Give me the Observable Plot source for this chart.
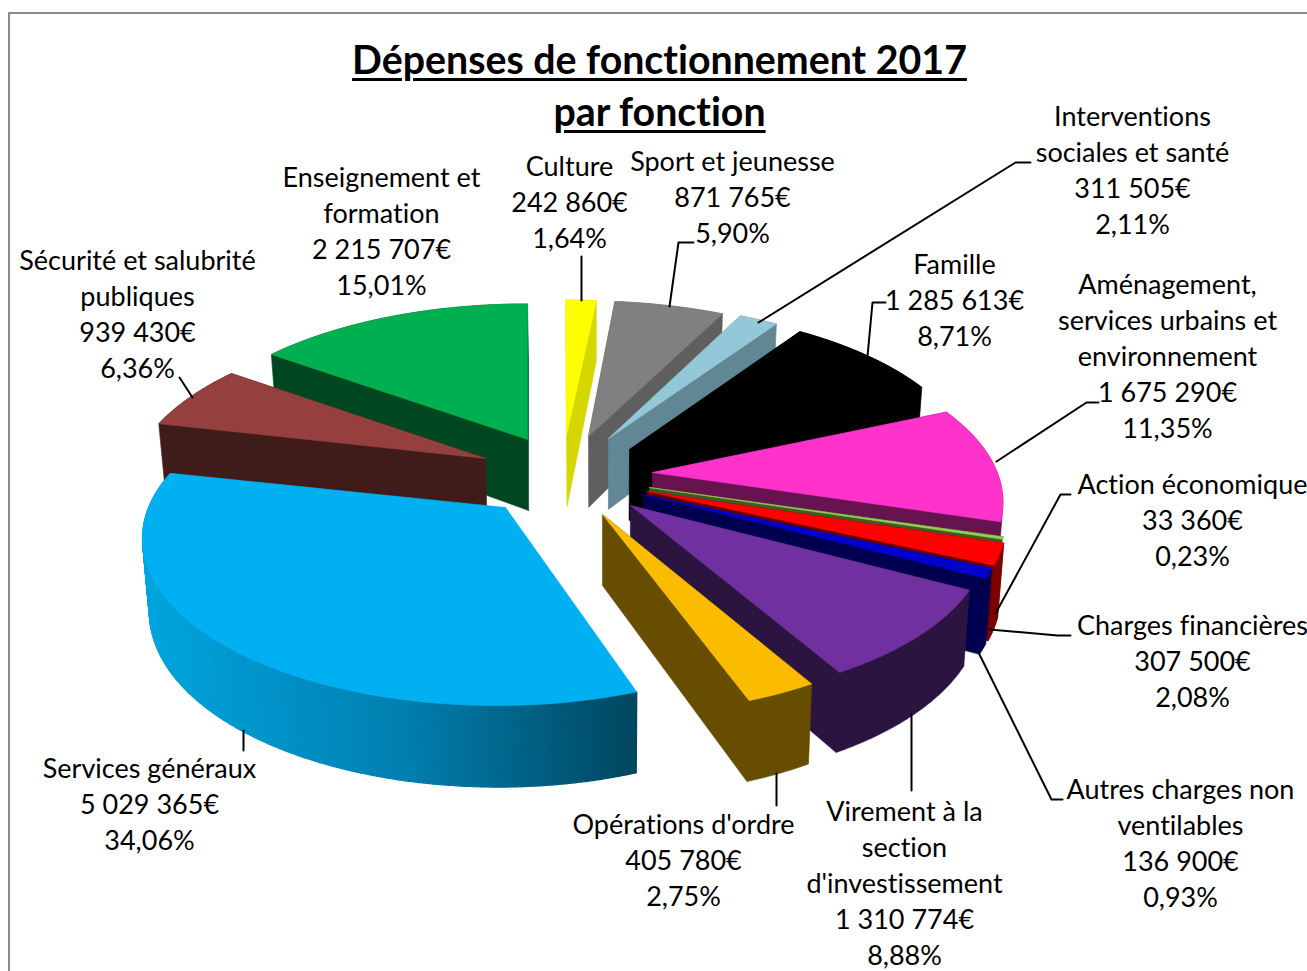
<!DOCTYPE html>
<html lang="fr"><head><meta charset="utf-8">
<script src="https://cdn.jsdelivr.net/npm/d3@7"></script>
<script src="https://cdn.jsdelivr.net/npm/@observablehq/plot@0.6"></script>
<style>
html,body{margin:0;padding:0;background:#fff;overflow:hidden}
#wrap{position:relative;width:1307px;height:971px}
#title{position:absolute;left:0;top:32.5px;width:1319px;text-align:center;font:700 39.3px/52.5px Lato,sans-serif;color:#000;text-decoration:underline;text-decoration-thickness:3px;text-underline-offset:4px;font-variant-ligatures:none;z-index:2}
svg text{font-variant-ligatures:none}
</style></head><body>
<div id="wrap"><div id="title">Dépenses de fonctionnement 2017<br>par fonction</div></div>
<script>
// ---- data ----
const names = ["Culture","Sport et jeunesse","Interventions\nsociales et santé","Famille","Aménagement,\nservices urbains et\nenvironnement","Action économique","Charges financières","Autres charges non\nventilables","Virement à la\nsection\nd'investissement","Opérations d'ordre","Services généraux","Sécurité et salubrité\npubliques","Enseignement et\nformation"];
const amounts = [242860,871765,311505,1285613,1675290,33360,307500,136900,1310774,405780,5029365,939430,2215707];
const percents = [1.64,5.90,2.11,8.71,11.35,0.23,2.08,0.93,8.88,2.75,34.06,6.36,15.01];
const topColors = ["#FFFF00","#808080","#92C8D8","#000000","#FF33CC","#92D050","#FF0000","#0000CC","#7030A0","#FBBC00","#00B0F0","#953F3F","#00B050"];
const wallColors = ["#D6D600","#5F5F5F","#628794","#000000","#66134F","#3F5A23","#660000","#000050","#2C1440","#664D00",null,"#3F1C1A","#004621"];
const rimColors = ["#D6D600","#5F5F5F","#628794","#000000","#66134F","#7CB044","#7F0000","#000050","#2C1440","#664D00",null,"#3F1C1A","#004621"];

// ---- per-slice placement of the exploded pie ----
const centreX = [566,588,608,629,652,649,647,643,630,602,496,485,527];
const centreY = [435,436,438,449,472,487,491,494,505,514,508,458,439];
const tipX = [566,588,608,629,652,649,647,643,630,602,505,485,527];
const tipY = [435,436,438,449,472,487,491,494,505,514,507,458,439];
const leans = [-1,-5,-6,0,0,0,0,-4,-5,-5,0,4,0];
const xStretch = [1,1,0.99,0.98,0.985,1,1.01,1.01,1,1,0.995,1,1];
const yStretch = [1,1,1,1.03,1,1,1,1,1.01,1.025,1.01,1,1];
const paintOrder = [0,1,2,3,4,5,6,7,8,12,11,10,9];
const labelX = [569,732,1132,954,1167,1192,1192,1180,904,683,149,137,381];
const labelY = [200,195,168,298,354,518,659,841,881,858,802,312,229];
const leaders = [
  [[581,256],[581,300]],
  [[693,242],[678,242],[669,306]],
  [[1030,162],[1015,162],[758,322]],
  [[885,302],[872,302],[867,356]],
  [[1098,402],[1086,402],[996,461]],
  [[1070,494],[1060,494],[995,613]],
  [[1070,635],[1057,635],[989,629]],
  [[1062,799],[1051,799],[978,652]],
  [[911,790],[911,714]],
  [[776,805],[776,773]],
  [[243,750],[243,730]],
  [[179,377],[192,397]]
];
const frameLine = [[8.5,971],[8.5,12.5],[1307,12.5]];

const total = d3.sum(amounts);
const RX = 350, RY = 160, PERSP = 0.18;
const rad = Math.PI / 180;
let acc = 0;
const starts = amounts.map(v => { const s = acc; acc += v / total * 360; return s; });
const project = (i, deg) => {
  const X = Math.sin(deg * rad), Y = Math.cos(deg * rad), w = 1 + PERSP * Y;
  return [centreX[i] + xStretch[i] * (RX * X + leans[i] * Y) / w, centreY[i] - yStretch[i] * RY * Y / w, Y];
};
const below = ([x, y, Y]) => [x + (600 - x) * 0.015, y + 71 - 10.5 * Y];
const rimShade = d3.scaleLinear().domain([145, 400, 636]).range(["#00A4DE", "#0080B0", "#004660"]).clamp(true);

const polys = [];
let pid = 0;
const addPoly = (pts, fill, sw = 0.6) => { const id = pid++; for (const p of pts.concat([pts[0]])) polys.push({id, x: p[0], y: p[1], fill, sw}); };
for (const i of paintOrder) {
  const a0 = starts[i], a1 = a0 + amounts[i] / total * 360;
  const n = Math.max(2, Math.ceil((a1 - a0) / 0.5));
  const arc = d3.range(n + 1).map(k => project(i, a0 + (a1 - a0) * k / n));
  const tip = [tipX[i], tipY[i], 0], tipB = below(tip);
  if (wallColors[i]) {
    const solid = d3.polygonHull([tip, tipB, ...arc, ...arc.map(below)].map(p => [p[0], p[1]]));
    addPoly(solid, wallColors[i]);
    if (rimColors[i] !== wallColors[i]) addPoly([...arc, ...arc.map(below).reverse()], rimColors[i]);
  } else for (let k = 0; k < n; k++) {
    const a = arc[k], b = arc[k + 1];
    addPoly([a, b, below(b), below(a)], rimShade((a[0] + b[0]) / 2), 1.2);
  }
  addPoly([tip, ...arc], topColors[i]);
}
const fmt = v => String(v).replace(/\B(?=(\d{3})+$)/g, " ") + "€";
const labels = names.map((n, i) => ({x: labelX[i], y: labelY[i], text: `${n}\n${fmt(amounts[i])}\n${percents[i].toFixed(2).replace(".", ",")}%`}));
const leaderRows = leaders.flatMap((l, id) => l.map(p => ({id, x: p[0], y: p[1]})));
const frameRows = frameLine.map(p => ({x: p[0], y: p[1]}));

const chart = Plot.plot({
  width: 1307, height: 971, margin: 0,
  x: {domain: [0, 1307], range: [0, 1307], axis: null},
  y: {domain: [0, 971], range: [0, 971], axis: null},
  color: {type: "identity"},
  style: {background: "#fff", display: "block"},
  marks: [
    Plot.line(frameRows, {x: "x", y: "y", stroke: "#8A8A8A", strokeWidth: 2, curve: "linear"}),
    Plot.line(polys, {x: "x", y: "y", z: "id", fill: "fill", stroke: "fill", strokeWidth: "sw", curve: "linear"}),
    Plot.line(leaderRows, {x: "x", y: "y", z: "id", stroke: "#000", strokeWidth: 2, curve: "linear"}),
    Plot.text(labels, {x: "x", y: "y", text: "text", fontFamily: "Lato, sans-serif", fontSize: 27, lineHeight: 36 / 27, textAnchor: "middle", lineAnchor: "middle", fill: "#000"})
  ]
});
document.getElementById("wrap").appendChild(chart);
</script></body></html>
